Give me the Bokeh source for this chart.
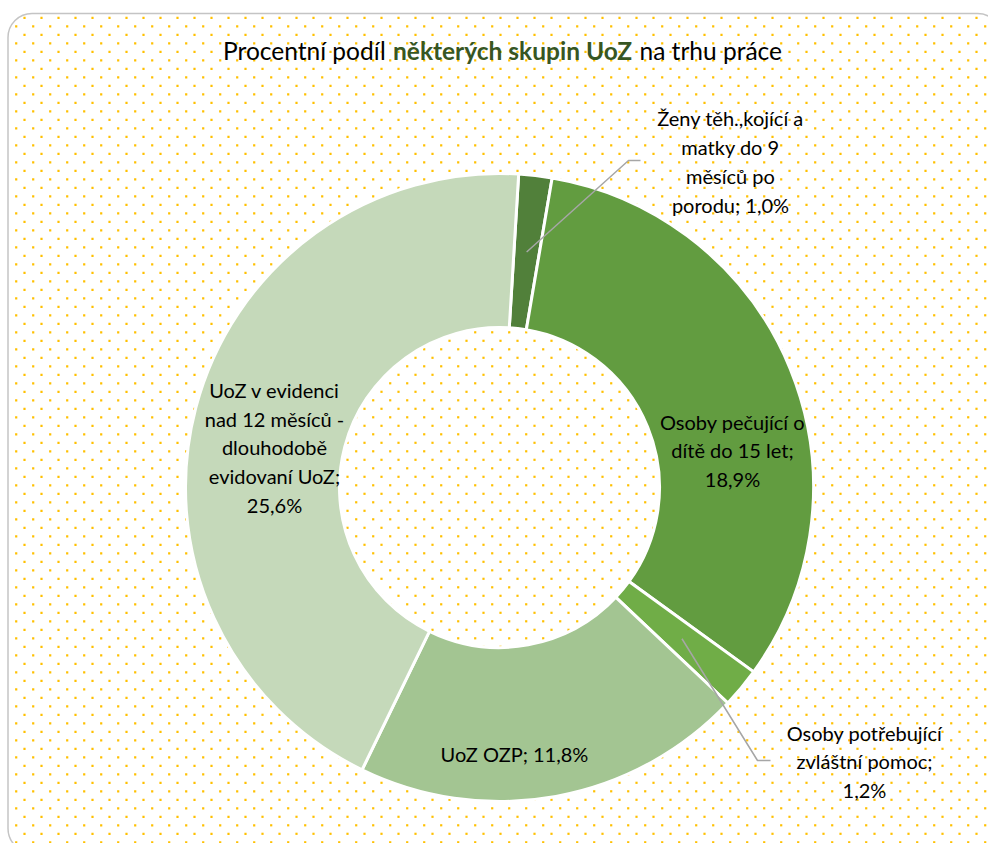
import numpy as np
from bokeh.plotting import figure
from bokeh.models import Range1d, BoxAnnotation, ColumnDataSource
from bokeh.core.properties import value
from bokeh.embed import file_html
from bokeh.resources import INLINE

# ---- data ----
categories = [
    "Ženy těh.,kojící a matky do 9 měsíců po porodu",
    "Osoby pečující o dítě do 15 let",
    "Osoby potřebující zvláštní pomoc",
    "UoZ OZP",
    "UoZ v evidenci nad 12 měsíců - dlouhodobě evidovaní UoZ",
]
values = [1.0, 18.9, 1.2, 11.8, 25.6]
label_templates = [
    "Ženy těh.,kojící a\nmatky do 9\nměsíců po\nporodu; {}",
    "Osoby pečující o\ndítě do 15 let;\n{}",
    "Osoby potřebující\nzvláštní pomoc;\n{}",
    "UoZ OZP; {}",
    "UoZ v evidenci\nnad 12 měsíců -\ndlouhodobě\nevidovaní UoZ;\n{}",
]
colors = ["#51803A", "#629C40", "#70AD47", "#A3C592", "#C5D9BA"]
title_parts = ["Procentní podíl", "některých skupin UoZ", "na trhu práce"]

# ---- layout (reference pixel coordinates) ----
W, H = 988, 843
def Y(y):
    return H - y

cx, cy = 499, Y(487)
r_in, r_out = 160, 314
first_angle = np.deg2rad(3.5)
label_pos = [(730, 161), (732, 450), (864, 761), (514, 753), (274, 447)]
leader = {0: [(628, 160), (640, 160)], 2: [(757, 760), (770, 760)]}

p = figure(width=W, height=H, x_range=Range1d(0, W), y_range=Range1d(0, H),
           output_backend="svg", toolbar_location=None, min_border=0)
p.axis.visible = False
p.grid.visible = False
p.outline_line_color = None
p.background_fill_color = "white"
p.border_fill_color = "white"

# rounded chart border
p.add_layout(BoxAnnotation(left=7.5, right=1001, top=Y(13), bottom=Y(852), border_radius=24,
                           fill_color="white", fill_alpha=1, line_color="#3a3a3a",
                           line_width=1.5, level="underlay"))

# dotted background pattern
dx, dy = [], []
row = 0
yy = 17.3
while yy < 845:
    x0 = 24.0 if row % 2 == 0 else 15.7
    xx = x0
    while xx < 985:
        inside = True
        if xx < 31.5 and yy < 37:
            inside = (xx - 31.5) ** 2 + (yy - 37) ** 2 <= 22 ** 2
        if xx < 11:
            inside = False
        if inside:
            dx.append(xx)
            dy.append(Y(yy))
        xx += 17.0
    yy += 8.5
    row += 1
p.scatter(dx, dy, marker="square", size=2.2, fill_color="#FFC000", line_color=None)

# donut
vals = np.array(values)
frac = vals / vals.sum() * 2 * np.pi
cum = np.concatenate([[0], np.cumsum(frac)[:-1]])
start = np.pi / 2 - first_angle - cum
end = start - frac
src = ColumnDataSource(dict(start=start, end=end, color=colors, cat=categories))
p.annular_wedge(x=cx, y=cy, inner_radius=r_in, outer_radius=r_out, start_angle="start",
                end_angle="end", direction="clock", fill_color="color", line_color="white",
                line_width=3, source=src)

# leader lines
mid = start - frac / 2
r_mid = (r_in + r_out) / 2
xs, ys = [], []
for i, pts in leader.items():
    xs.append([cx + r_mid * np.cos(mid[i])] + [pt[0] for pt in pts])
    ys.append([cy + r_mid * np.sin(mid[i])] + [Y(pt[1]) for pt in pts])
p.multi_line(xs, ys, line_color="#A6A6A6", line_width=1.5)

# labels
fmt = lambda v: f"{v:.1f}".replace(".", ",") + "%"
texts = [t.format(fmt(v)) for t, v in zip(label_templates, values)]
p.text(x=[q[0] for q in label_pos], y=[Y(q[1]) for q in label_pos], text=texts,
       text_align="center", text_baseline="middle", text_font=value("Lato"),
       text_font_size="20px", text_line_height=1.2, text_color="#000000")

# title
title_x = [222.5, 392.5, 639]
p.text(x=title_x, y=[Y(50)] * 3, text=title_parts, text_align="left",
       text_baseline="alphabetic", text_font=value("Lato"), text_font_size="24.5px",
       text_color=["#000000", "#375623", "#000000"],
       text_font_style=["normal", "bold", "normal"])

open("out.html", "w").write(file_html(p, INLINE))
